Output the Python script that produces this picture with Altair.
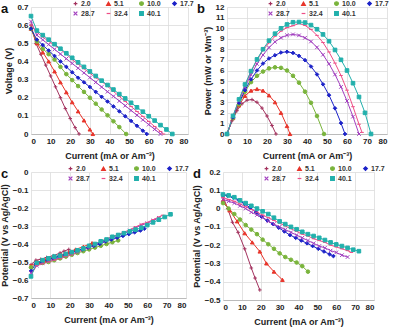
import altair as alt
import pandas as pd

series = ["2.0", "5.1", "10.0", "17.7", "28.7", "32.4", "40.1"]
colors = ["#A3325E", "#E8352B", "#7AB43C", "#1C22C8", "#A23FBF", "#EE4D86", "#22B0AC"]
shapes = ["M0,-1L0,1M-1,0L1,0", "triangle-up", "circle", "diamond",
          "M-1,-1L1,1M1,-1L-1,1", "stroke", "square"]

# ---- panels a / b : current (mA) ----
I_ab_20 = [0, 2.5, 5, 7.5, 10, 12.5, 15, 17.5, 20, 22.5, 24.5]
I_ab_51 = [0, 3, 6, 9, 12, 15, 18, 21, 24, 27, 30, 31.5]
I_ab_100 = [0, 3, 6, 9, 12, 15, 18, 21, 24, 27, 30, 33, 36, 39, 42, 45, 48.5]
I_ab_177 = [0, 3, 6, 9, 12, 15, 18, 21, 24, 27, 30, 33, 36, 39, 42, 45, 48, 51, 54, 57, 59]
I_ab_287 = [0, 3, 6, 9, 12, 15, 18, 21, 24, 27, 30, 33, 36, 39, 42, 45, 48, 51, 54, 57, 60, 63, 66]
I_ab_324 = [0, 3, 6, 9, 12, 15, 18, 21, 24, 27, 30, 33, 36, 39, 42, 45, 48, 51, 54, 57, 60, 63, 66, 67.5]
I_ab_401 = [0, 3, 6, 9, 12, 15, 18, 21, 24, 27, 30, 33, 36, 39, 42, 45, 48, 51, 54, 57, 60, 63, 66, 69, 72]

# panel a : voltage (V)
V_a_20 = [0.60, 0.50, 0.44, 0.38, 0.32, 0.26, 0.20, 0.14, 0.085, 0.035, 0.0]
V_a_51 = [0.58, 0.50, 0.45, 0.40, 0.345, 0.285, 0.23, 0.175, 0.125, 0.075, 0.025, 0.0]
V_a_100 = [0.58, 0.51, 0.47, 0.44, 0.41, 0.37, 0.33, 0.297, 0.264, 0.232, 0.20, 0.167, 0.135, 0.103, 0.07, 0.038, 0.0]
V_a_177 = [0.58, 0.52, 0.49, 0.46, 0.43, 0.40, 0.37, 0.34, 0.31, 0.285, 0.259, 0.232, 0.205, 0.179, 0.152, 0.125, 0.098, 0.072, 0.045, 0.018, 0.0]
V_a_287 = [0.62, 0.545, 0.519, 0.493, 0.467, 0.441, 0.415, 0.389, 0.363, 0.337, 0.311, 0.285, 0.259, 0.233, 0.208, 0.182, 0.156, 0.13, 0.104, 0.078, 0.052, 0.026, 0.0]
V_a_324 = [0.60, 0.56, 0.535, 0.51, 0.49, 0.465, 0.44, 0.41, 0.385, 0.36, 0.335, 0.31, 0.29, 0.263, 0.235, 0.207, 0.18, 0.152, 0.124, 0.097, 0.069, 0.041, 0.014, 0.0]
V_a_401 = [0.65, 0.57, 0.545, 0.52, 0.495, 0.47, 0.445, 0.42, 0.395, 0.37, 0.345, 0.32, 0.294, 0.27, 0.245, 0.22, 0.196, 0.172, 0.147, 0.123, 0.098, 0.074, 0.049, 0.025, 0.0]

# panel b : power (mW)
P_b_20 = [0, 1.25, 2.2, 2.85, 3.2, 3.25, 3.0, 2.45, 1.7, 0.8, 0]
P_b_51 = [0, 1.5, 2.7, 3.6, 4.1, 4.25, 4.1, 3.65, 3.0, 2.0, 0.75, 0]
P_b_100 = [0, 1.5, 2.8, 4.0, 4.9, 5.5, 5.9, 6.2, 6.3, 6.25, 6.0, 5.5, 4.85, 4.0, 2.95, 1.7, 0]
P_b_177 = [0, 1.56, 2.94, 4.14, 5.16, 6.0, 6.66, 7.14, 7.44, 7.7, 7.77, 7.66, 7.38, 6.98, 6.38, 5.63, 4.7, 3.67, 2.43, 1.03, 0]
P_b_287 = [0, 1.64, 3.11, 4.44, 5.6, 6.62, 7.47, 8.17, 8.71, 9.1, 9.33, 9.41, 9.32, 9.09, 8.74, 8.19, 7.49, 6.63, 5.62, 4.45, 3.12, 1.64, 0]
P_b_324 = [0, 1.68, 3.21, 4.59, 5.88, 6.98, 7.92, 8.61, 9.24, 9.72, 10.05, 10.23, 10.44, 10.26, 9.87, 9.32, 8.64, 7.75, 6.7, 5.53, 4.14, 2.58, 0.92, 0.15]
P_b_401 = [0, 1.71, 3.27, 4.68, 5.94, 7.05, 8.01, 8.82, 9.48, 9.99, 10.35, 10.56, 10.58, 10.53, 10.29, 9.9, 9.41, 8.77, 7.94, 7.01, 6.0, 4.8, 3.5, 2.0, 0]

# ---- panels c / d : current (mA) ----
I_cd_20 = [0, 2.5, 5, 8, 11.5, 15, 17, 19.5]
I_cd_51 = [0, 3.5, 7.5, 11.5, 15.5, 19.5, 23, 27, 31.5]
I_cd_100 = [0, 3, 6, 9, 12, 15, 18, 21, 24, 27, 30, 33, 36, 39, 42, 45]
I_cd_177 = [0, 2.5, 5.5, 8.5, 11.5, 14.5, 17.5, 20.5, 23.5, 26.5, 29.5, 32.5, 35.5, 38.5, 41.5, 44.5, 47.5, 50.5, 53.5, 56.5, 58.5]
I_cd_287 = [0, 3, 6, 9, 12, 15, 18, 21, 24, 27, 30, 33, 36, 39, 42, 45, 48, 51, 54, 57, 60, 63, 66]
I_cd_324 = [0, 3, 6, 9, 12, 15, 18, 21, 24, 27, 30, 33, 36, 39, 42, 45, 48, 51, 54, 57, 60, 63, 66, 68]
I_cd_401 = [0, 3, 6, 9, 12, 15, 18, 21, 24, 27, 30, 33, 36, 39, 42, 45, 48, 51, 54, 57, 60, 63, 66, 69, 72]

# panel c : anode potential (V vs Ag/AgCl)
E_c_20 = [-0.515, -0.49, -0.485, -0.475, -0.465, -0.45, -0.44, -0.43]
E_c_51 = [-0.52, -0.50, -0.49, -0.475, -0.46, -0.445, -0.43, -0.415, -0.395]
E_c_100 = [-0.53, -0.51, -0.505, -0.50, -0.49, -0.48, -0.47, -0.46, -0.45, -0.44, -0.43, -0.42, -0.41, -0.40, -0.39, -0.38]
E_c_177 = [-0.55, -0.51, -0.50, -0.49, -0.48, -0.47, -0.46, -0.45, -0.44, -0.43, -0.42, -0.41, -0.40, -0.385, -0.375, -0.365, -0.355, -0.345, -0.335, -0.325, -0.315]
E_c_287 = [-0.56, -0.52, -0.505, -0.495, -0.485, -0.475, -0.465, -0.455, -0.445, -0.43, -0.42, -0.405, -0.39, -0.38, -0.365, -0.35, -0.34, -0.325, -0.31, -0.295, -0.285, -0.27, -0.255]
E_c_324 = [-0.57, -0.52, -0.51, -0.50, -0.49, -0.48, -0.47, -0.46, -0.445, -0.43, -0.415, -0.40, -0.385, -0.37, -0.36, -0.345, -0.335, -0.32, -0.305, -0.29, -0.28, -0.265, -0.25, -0.24]
E_c_401 = [-0.58, -0.505, -0.49, -0.48, -0.47, -0.465, -0.455, -0.445, -0.435, -0.425, -0.41, -0.40, -0.385, -0.375, -0.36, -0.35, -0.34, -0.33, -0.32, -0.31, -0.295, -0.28, -0.265, -0.25, -0.235]

# panel d : cathode potential (V vs Ag/AgCl)
E_d_20 = [0.065, 0.0, -0.075, -0.13, -0.22, -0.325, -0.38, -0.445]
E_d_51 = [0.045, -0.01, -0.07, -0.135, -0.185, -0.235, -0.30, -0.345, -0.39]
E_d_100 = [0.03, 0.0, -0.03, -0.06, -0.09, -0.115, -0.14, -0.17, -0.195, -0.22, -0.245, -0.265, -0.28, -0.295, -0.315, -0.345]
E_d_177 = [0.075, 0.07, 0.06, 0.045, 0.025, 0.005, -0.02, -0.045, -0.065, -0.085, -0.105, -0.125, -0.145, -0.16, -0.175, -0.19, -0.205, -0.22, -0.235, -0.25, -0.26]
E_d_287 = [0.05, 0.04, 0.03, 0.015, 0.0, -0.02, -0.035, -0.05, -0.07, -0.085, -0.10, -0.115, -0.13, -0.145, -0.16, -0.175, -0.19, -0.205, -0.215, -0.23, -0.24, -0.255, -0.265]
E_d_324 = [0.06, 0.05, 0.04, 0.025, 0.01, -0.005, -0.02, -0.035, -0.05, -0.065, -0.08, -0.095, -0.11, -0.125, -0.14, -0.15, -0.165, -0.175, -0.185, -0.20, -0.21, -0.22, -0.23, -0.24]
E_d_401 = [0.077, 0.072, 0.062, 0.045, 0.03, 0.015, 0.0, -0.015, -0.03, -0.05, -0.07, -0.085, -0.10, -0.113, -0.127, -0.14, -0.15, -0.16, -0.172, -0.185, -0.196, -0.205, -0.215, -0.225, -0.233]

FONT = "Liberation Sans"
XTITLE = "Current (mA or Am\u207b\u00b3)"


def build(currents, values):
    rows = []
    for s, xs, ys in zip(series, currents, values):
        for x, y in zip(xs, ys):
            rows.append({"s": s, "x": x, "y": y})
    return pd.DataFrame(rows)


df_a = build([I_ab_20, I_ab_51, I_ab_100, I_ab_177, I_ab_287, I_ab_324, I_ab_401],
             [V_a_20, V_a_51, V_a_100, V_a_177, V_a_287, V_a_324, V_a_401])
df_b = build([I_ab_20, I_ab_51, I_ab_100, I_ab_177, I_ab_287, I_ab_324, I_ab_401],
             [P_b_20, P_b_51, P_b_100, P_b_177, P_b_287, P_b_324, P_b_401])
df_c = build([I_cd_20, I_cd_51, I_cd_100, I_cd_177, I_cd_287, I_cd_324, I_cd_401],
             [E_c_20, E_c_51, E_c_100, E_c_177, E_c_287, E_c_324, E_c_401])
df_d = build([I_cd_20, I_cd_51, I_cd_100, I_cd_177, I_cd_287, I_cd_324, I_cd_401],
             [E_d_20, E_d_51, E_d_100, E_d_177, E_d_287, E_d_324, E_d_401])

LABEL_EXPR = "datum.value == 0 ? '0' : format(datum.value, '.1f')"


def panel(df, letter, ytitle, ydom, yvals, yexpr, w, h, lx):
    legend = alt.Legend(
        title=None, orient="none", legendX=lx, legendY=-7, columns=4,
        direction="horizontal", labelFont=FONT, labelFontSize=7,
        labelFontWeight="bold", labelColor="#333333", symbolSize=14,
        symbolStrokeWidth=1.2, labelOffset=2, columnPadding=9, rowPadding=1,
        gridAlign="all", padding=0,
    )
    x = alt.X("x:Q", scale=alt.Scale(domain=[0, 80], nice=False),
              axis=alt.Axis(values=list(range(0, 81, 10)), title=XTITLE))
    y = alt.Y("y:Q", scale=alt.Scale(domain=ydom, nice=False, zero=False),
              axis=alt.Axis(values=yvals, labelExpr=yexpr, title=ytitle))
    color = alt.Color("s:N", scale=alt.Scale(domain=series, range=colors), legend=legend)
    stroke = alt.Stroke("s:N", scale=alt.Scale(domain=series, range=colors), legend=legend)
    shape = alt.Shape("s:N", scale=alt.Scale(domain=series, range=shapes), legend=legend)
    base = alt.Chart(df)
    lines = base.mark_line(strokeWidth=1).encode(x=x, y=y, color=color)
    pts = base.mark_point(filled=True, size=13, strokeWidth=1, opacity=1).encode(
        x=x, y=y, color=color, stroke=stroke, shape=shape)
    lab = alt.Chart(pd.DataFrame({"t": [letter]})).mark_text(
        font=FONT, fontSize=13, fontWeight="bold", align="left", baseline="top",
        color="#111111").encode(text="t:N", x=alt.value(-30), y=alt.value(-4))
    return alt.layer(lines, pts, lab).properties(width=w, height=h)


pa = panel(df_a, "a", "Voltage (V)", [0, 0.7],
           [0, 0.1, 0.2, 0.3, 0.4, 0.5, 0.6, 0.7], LABEL_EXPR, 157, 127, 41)
pb = panel(df_b, "b", "Power (mW or Wm\u207b\u00b3)", [0, 12],
           list(range(0, 13)), "format(datum.value, 'd')", 160, 127, 40)
pc = panel(df_c, "c", "Potential (V vs Ag/AgCl)", [-0.7, 0],
           [-0.7, -0.6, -0.5, -0.4, -0.3, -0.2, -0.1, 0], LABEL_EXPR, 155, 126, 36)
pd_ = panel(df_d, "d", "Potential (V vs Ag/AgCl)", [-0.5, 0.2],
            [-0.5, -0.4, -0.3, -0.2, -0.1, 0, 0.1, 0.2], LABEL_EXPR, 151, 128, 40)

RES = dict(color="independent", shape="independent", stroke="independent")
row1 = alt.hconcat(pa, pb, spacing=3).resolve_scale(**RES)
row2 = alt.hconcat(pc, pd_, spacing=3).resolve_scale(**RES)

chart = alt.vconcat(row1, row2, spacing=5).resolve_scale(**RES).properties(
    padding={"left": 0, "top": 0, "right": 2, "bottom": 2}
).configure_view(stroke=None).configure_axis(
    labelFont=FONT, labelFontSize=8, labelFontWeight="bold", labelColor="#222222",
    titleFont=FONT, titleFontSize=9, titleFontWeight="bold", titleColor="#222222",
    gridColor="#dcdcdc", gridWidth=0.8, domain=False, ticks=False, labelPadding=3,
    titlePadding=3,
).configure_axisX(domain=True, domainColor="#bbbbbb", titlePadding=6)

chart.save("out.html", embed_options={"renderer": "svg", "actions": False})
